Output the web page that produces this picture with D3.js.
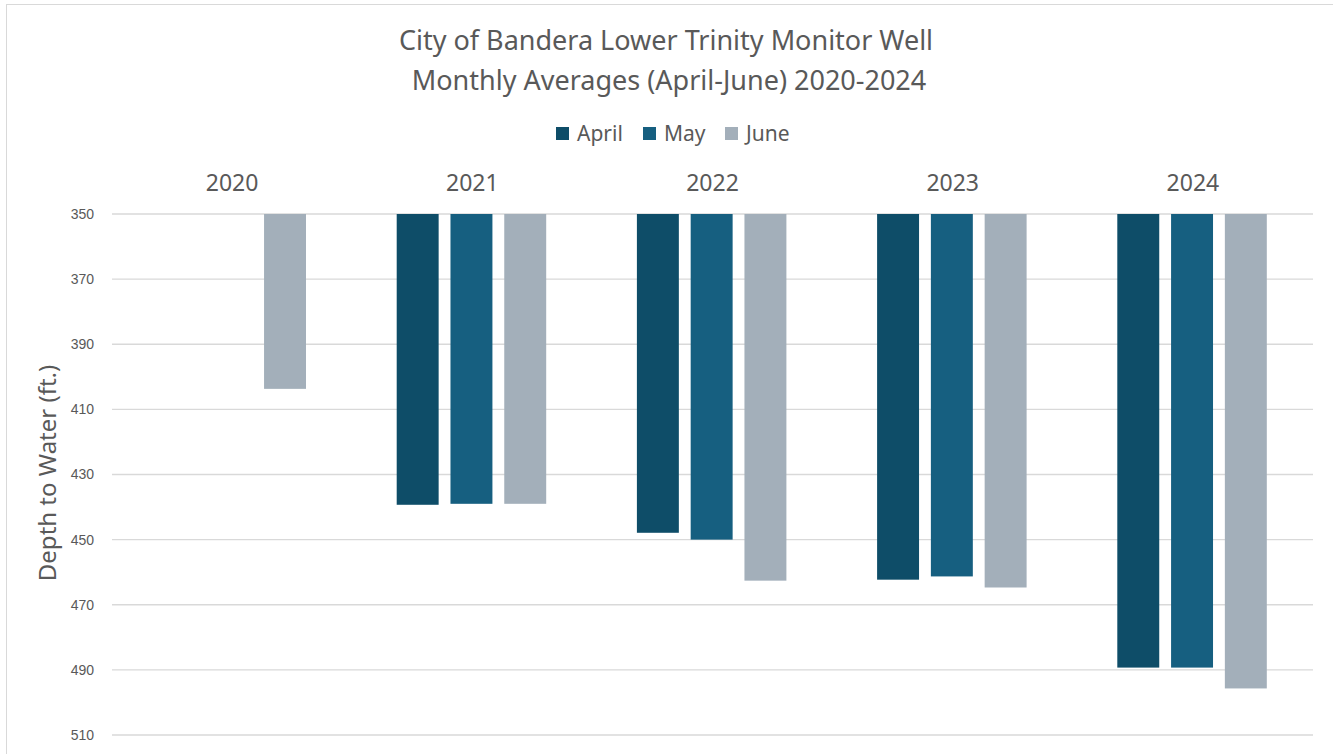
<!DOCTYPE html>
<html>
<head>
<meta charset="utf-8">
<script src="https://cdnjs.cloudflare.com/ajax/libs/d3/7.8.5/d3.min.js"></script>
<style>
  body { margin: 0; background: #fff; }
  text { fill: #595959; }
</style>
</head>
<body>
<div id="chart"></div>
<script>
// data
var years = ["2020", "2021", "2022", "2023", "2024"];
var months = ["April", "May", "June"];
var april = [null, 439.3, 447.9, 462.3, 489.3];
var may = [null, 439.0, 450.0, 461.3, 489.3];
var june = [403.7, 439.0, 462.6, 464.7, 495.7];
var yTicks = [350, 370, 390, 410, 430, 450, 470, 490, 510];
var colors = ["#0e4d68", "#165f80", "#a3afba"];

function init() {
    var w = 1333;
    var h = 754;
    var left = 112, right = 1313, top = 214, bottom = 735;

    var svg = d3.select("#chart")
        .append("svg")
        .attr("width", w)
        .attr("height", h);

    // outer border of the chart area
    svg.append("rect")
        .attr("x", 6.5).attr("y", 4.5)
        .attr("width", w + 10).attr("height", h + 10)
        .attr("fill", "none")
        .attr("stroke", "#d9d9d9");

    var x0 = d3.scaleBand().domain(years).range([left, right]);
    var x1 = d3.scaleBand().domain(months).range([44.5, 194])
        .paddingInner(0.22).paddingOuter(0);
    var y = d3.scaleLinear().domain([350, 510]).range([top, bottom]);
    var color = d3.scaleOrdinal().domain(months).range(colors);

    // gridlines
    svg.append("g")
        .selectAll("line")
        .data(yTicks)
        .enter()
        .append("line")
        .attr("x1", left).attr("x2", right)
        .attr("y1", function(d) { return y(d); })
        .attr("y2", function(d) { return y(d); })
        .attr("stroke", "#d9d9d9")
        .attr("stroke-width", 1.3);

    // y axis labels
    var yAxis = d3.axisLeft(y).tickValues(yTicks).tickSize(0).tickPadding(0);
    var gy = svg.append("g")
        .attr("transform", "translate(94,0)")
        .call(yAxis);
    gy.select(".domain").remove();
    gy.selectAll("text")
        .attr("fill", "#595959")
        .style("font-family", "'Liberation Sans', Arial, sans-serif")
        .style("font-size", "14px");

    // year labels on top
    var xAxis = d3.axisTop(x0).tickSize(0).tickPadding(0);
    var gx = svg.append("g")
        .attr("transform", "translate(0,191)")
        .call(xAxis);
    gx.select(".domain").remove();
    gx.selectAll("text")
        .attr("fill", "#595959")
        .style("font-family", "'Noto Sans', 'Open Sans', sans-serif")
        .style("font-size", "23px");

    var rows = [];
    years.forEach(function(yr, i) {
        [april, may, june].forEach(function(s, j) {
            if (s[i] != null) rows.push({ year: yr, month: months[j], value: s[i] });
        });
    });

    svg.append("g")
        .selectAll("rect")
        .data(rows)
        .enter()
        .append("rect")
        .attr("x", function(d) { return x0(d.year) + x1(d.month); })
        .attr("y", y(350))
        .attr("width", x1.bandwidth())
        .attr("height", function(d) { return y(d.value) - y(350); })
        .attr("fill", function(d) { return color(d.month); });

    // title
    var title = svg.append("text")
        .attr("text-anchor", "middle")
        .style("font-family", "'Noto Sans', 'Open Sans', sans-serif")
        .style("font-size", "27px");
    title.append("tspan").attr("x", 666).attr("y", 50)
        .text("City of Bandera Lower Trinity Monitor Well");
    title.append("tspan").attr("x", 669).attr("y", 90)
        .text("Monthly Averages (April-June) 2020-2024");

    // legend
    var legendX = [556, 643, 725];
    var lg = svg.append("g")
        .selectAll("g")
        .data(months)
        .enter()
        .append("g")
        .attr("transform", function(d, i) { return "translate(" + legendX[i] + ",127)"; });
    lg.append("rect")
        .attr("width", 13).attr("height", 13)
        .attr("fill", function(d) { return color(d); });
    lg.append("text")
        .attr("x", 21).attr("y", 14)
        .style("font-family", "'Noto Sans', 'Open Sans', sans-serif")
        .style("font-size", "21px")
        .text(function(d) { return d; });

    // y axis title
    svg.append("text")
        .attr("transform", "translate(56,473) rotate(-90)")
        .attr("text-anchor", "middle")
        .style("font-family", "'Noto Sans', 'Open Sans', sans-serif")
        .style("font-size", "24px")
        .text("Depth to Water (ft.)");
}
window.onload = init;
</script>
</body>
</html>
